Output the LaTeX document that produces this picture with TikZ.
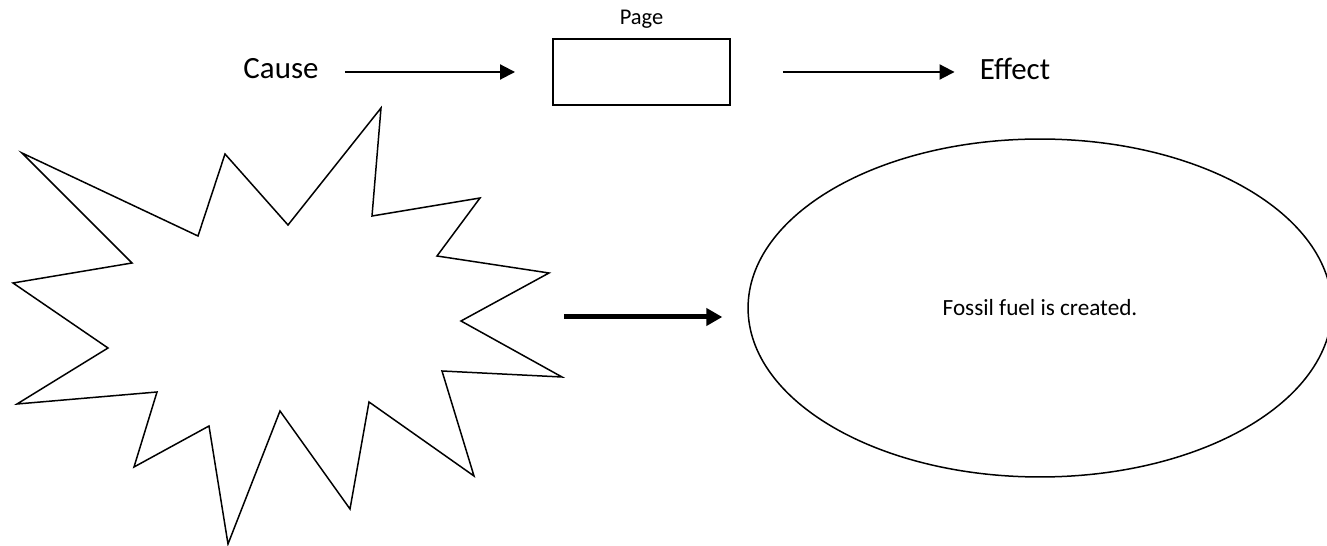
\documentclass[tikz,border=0pt]{standalone}
\usepackage{fontspec}
\setmainfont{Carlito}
\usetikzlibrary{shapes.geometric,arrows.meta}

\tikzset{
	word/.style={inner sep=0pt,font=\fontsize{17.6}{20}\selectfont},
	small/.style={inner sep=0pt,font=\fontsize{12.8}{15}\selectfont},
	pagebox/.style={draw,line width=0.04cm,minimum width=3.54cm,minimum height=1.32cm,inner sep=0pt},
	fossilshape/.style={draw,ellipse,line width=0.03cm,minimum width=11.68cm,minimum height=6.76cm,inner sep=0pt},
	burst/.style={draw,line width=0.03cm,line join=miter},
	thinarrow/.style={line width=0.04cm,-{Triangle[length=0.3cm,width=0.3cm]}},
	thickarrow/.style={line width=0.1cm,-{Triangle[length=0.32cm,width=0.34cm]}}
}

\begin{document}
\begin{tikzpicture}[x=0.02cm,y=-0.02cm]
		\useasboundingbox (0,0) rectangle (1327,546);
		% top row
		\node[word] (cause) at (281,69) {Cause};
		\node[pagebox,label={[small,label distance=0.18cm]above:Page}] (page) at (641.5,72) {};
		\node[word] (effect) at (1015,69) {Effect};
		%
		\draw[thinarrow,shorten <=0.52cm,shorten >=0.74cm] (cause.east |- page.west) -- (page.west);
		\draw[thinarrow,shorten <=1.04cm,shorten >=0.5cm] (page.east) -- (page.east -| effect.west);
		% burst
		\draw[burst] (381,108) -- (372,216) -- (480,198) -- (437,256) -- (549,273)
			-- (461,321) -- (562,377) -- (442,371) -- (474,476) -- (369,402)
			-- (350,509) -- (280,411) -- (228,544) -- (209,426) -- (134,467)
			-- (157,392) -- (17,404) -- (108,348) -- (13,283) -- (132,263)
			-- (22,153) -- (198,236) -- (225,154) -- (288,225) -- cycle;
		\coordinate (burstout) at (564,317);
		% effect ellipse
		\node[fossilshape,font=\fontsize{13.2}{15}\selectfont] (fossil) at (1040,308) {Fossil fuel is created.};
		%
		\draw[thickarrow,shorten >=0.5cm] (burstout) -- (burstout -| fossil.west);
\end{tikzpicture}
\end{document}
